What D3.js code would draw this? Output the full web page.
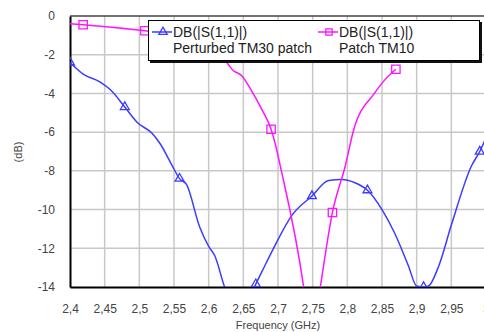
<!DOCTYPE html>
<html>
<head>
<meta charset="utf-8">
<script src="https://cdn.jsdelivr.net/npm/d3@7"></script>
<style>
  body { margin: 0; background: #fff; }
  svg text { font-family: "Liberation Sans", Arial, sans-serif; }
</style>
</head>
<body>
<div class="chart"></div>
<script>
// frequency (GHz) / return loss (dB)
var tm30Freq = [2.400, 2.419, 2.443, 2.458, 2.479, 2.497, 2.518, 2.530, 2.547, 2.558, 2.568, 2.587, 2.600, 2.609, 2.623, 2.645,
                2.668, 2.681, 2.695, 2.720, 2.749, 2.773, 2.792, 2.810, 2.829, 2.850, 2.868, 2.888, 2.900, 2.910, 2.917, 2.932,
                2.950, 2.979, 2.991, 3.000];
var tm30Db   = [-2.4, -3.0, -3.4, -3.8, -4.7, -5.5, -6.05, -6.6, -7.7, -8.4, -8.7, -10.9, -11.9, -12.4, -14.0, -15.5,
                -13.85, -12.9, -11.9, -10.3, -9.3, -8.5, -8.45, -8.6, -9.0, -10.0, -11.2, -12.9, -13.95, -14.0, -13.95, -12.9,
                -10.8, -7.75, -7.0, -6.3];
var tm30Marks = [0, 4, 9, 16, 20, 24, 29, 34];

var tm10Freq = [2.400, 2.419, 2.508, 2.560, 2.597, 2.620, 2.635, 2.648, 2.660, 2.677, 2.690, 2.696, 2.703, 2.737, 2.748,
                2.761, 2.7785, 2.797, 2.809, 2.839, 2.854, 2.870];
var tm10Db   = [-0.4, -0.45, -0.76, -1.0, -1.4, -2.1, -2.8, -3.1, -3.75, -4.85, -5.85, -6.6, -7.7, -14.0, -17.0,
                -14.0, -10.15, -7.75, -5.9, -4.0, -3.3, -2.75];
var tm10Marks = [1, 2, 4, 10, 16, 21];

var xTicks = [2.4, 2.45, 2.5, 2.55, 2.6, 2.65, 2.7, 2.75, 2.8, 2.85, 2.9, 2.95, 3.0];
var yTicks = [0, -2, -4, -6, -8, -10, -12, -14];
var legendNames = [["DB(|S(1,1)|)", "Perturbed TM30 patch"], ["DB(|S(1,1)|)", "Patch TM10"]];

var width = 484, height = 332;
var plotL = 70, plotT = 16, plotR = 486, plotB = 287;

var svg = d3.select('.chart').append('svg')
            .attr('width', width)
            .attr('height', height);

var x = d3.scaleLinear().domain([2.4, 3.0]).range([plotL, plotR]);
var y = d3.scaleLinear().domain([-14, 0]).range([plotB, plotT]);

svg.append('clipPath').attr('id', 'plot')
   .append('rect')
   .attr('x', plotL).attr('y', plotT)
   .attr('width', plotR - plotL).attr('height', plotB - plotT);

// grid
svg.append('g').selectAll('line')
   .data(xTicks.slice(1, -1))
   .enter().append('line')
   .attr('x1', d => x(d)).attr('x2', d => x(d))
   .attr('y1', plotT).attr('y2', plotB)
   .attr('stroke', '#c8c8c8').attr('stroke-width', 1.5);

svg.append('g').selectAll('line')
   .data(yTicks.slice(1, -1))
   .enter().append('line')
   .attr('x1', plotL).attr('x2', plotR)
   .attr('y1', d => y(d)).attr('y2', d => y(d))
   .attr('stroke', '#c8c8c8').attr('stroke-width', 1.5);

// frame
svg.append('line').attr('x1', plotL).attr('x2', plotR).attr('y1', plotT).attr('y2', plotT)
   .attr('stroke', '#444').attr('stroke-width', 1.5);

// axes
var xAxis = d3.axisBottom(x).tickValues(xTicks).tickSize(0).tickPadding(17)
              .tickFormat(d => String(d).replace('.', ','));
var yAxis = d3.axisLeft(y).tickValues(yTicks).tickSize(0).tickPadding(15)
              .tickFormat(d => d === 0 ? '0' : '-' + Math.abs(d));

var gx = svg.append('g').attr('transform', 'translate(0,' + plotB + ')').call(xAxis);
var gy = svg.append('g').attr('transform', 'translate(' + plotL + ',0)').call(yAxis);
[gx, gy].forEach(function(g) {
  g.select('.domain').attr('stroke', '#000').attr('stroke-width', 2);
  g.selectAll('text').attr('font-size', 12).attr('fill', '#444')
   .attr('font-family', '"Liberation Sans", Arial, sans-serif');
});

svg.append('text')
   .attr('x', 278).attr('y', 329)
   .attr('text-anchor', 'middle')
   .attr('font-size', 11).attr('fill', '#444')
   .text('Frequency (GHz)');

svg.append('text')
   .attr('transform', 'translate(22,152) rotate(-90)')
   .attr('text-anchor', 'middle')
   .attr('font-size', 11).attr('fill', '#444')
   .text('(dB)');

// series
var line = d3.line().curve(d3.curveMonotoneX).x(d => x(d[0])).y(d => y(d[1]));
var tri = d3.symbol().type(d3.symbolTriangle).size(34);
var sq = d3.symbol().type(d3.symbolSquare).size(70);

var series = [
  { f: tm30Freq, v: tm30Db, marks: tm30Marks, color: '#3c3cff', sym: tri },
  { f: tm10Freq, v: tm10Db, marks: tm10Marks, color: '#ff14ff', sym: sq }
];

var plot = svg.append('g').attr('clip-path', 'url(#plot)');
series.forEach(function(s) {
  var pts = s.f.map((f, i) => [f, s.v[i]]);
  plot.append('path').datum(pts)
      .attr('d', line)
      .attr('fill', 'none')
      .attr('stroke', s.color).attr('stroke-width', 1.5);
  plot.selectAll(null)
      .data(s.marks.map(i => pts[i]))
      .enter().append('path')
      .attr('d', s.sym)
      .attr('transform', d => 'translate(' + x(d[0]) + ',' + y(d[1]) + ')')
      .attr('fill', 'none')
      .attr('stroke', s.color).attr('stroke-width', 1.3);
});

// legend
var lg = svg.append('g');
lg.append('rect').attr('x', 150).attr('y', 22).attr('width', 332).attr('height', 41).attr('fill', '#111');
lg.append('rect').attr('x', 148.5).attr('y', 20.5).attr('width', 331).attr('height', 40)
  .attr('fill', '#fff').attr('stroke', '#000').attr('stroke-width', 1);

var entryX = [152, 318];
series.forEach(function(s, i) {
  var ex = entryX[i];
  lg.append('line').attr('x1', ex).attr('x2', ex + 20).attr('y1', 32).attr('y2', 32)
    .attr('stroke', s.color).attr('stroke-width', 1.5);
  lg.append('path').attr('d', s.sym.size(i === 0 ? 30 : 40))
    .attr('transform', 'translate(' + (ex + 11) + ',32)')
    .attr('fill', 'none').attr('stroke', s.color).attr('stroke-width', 1.3);
  lg.append('text').attr('x', ex + 21).attr('y', 37)
    .attr('font-size', 14).attr('fill', '#222').text(legendNames[i][0]);
  lg.append('text').attr('x', ex + 21).attr('y', 53)
    .attr('font-size', 14).attr('fill', '#222').text(legendNames[i][1]);
});
</script>
</body>
</html>
